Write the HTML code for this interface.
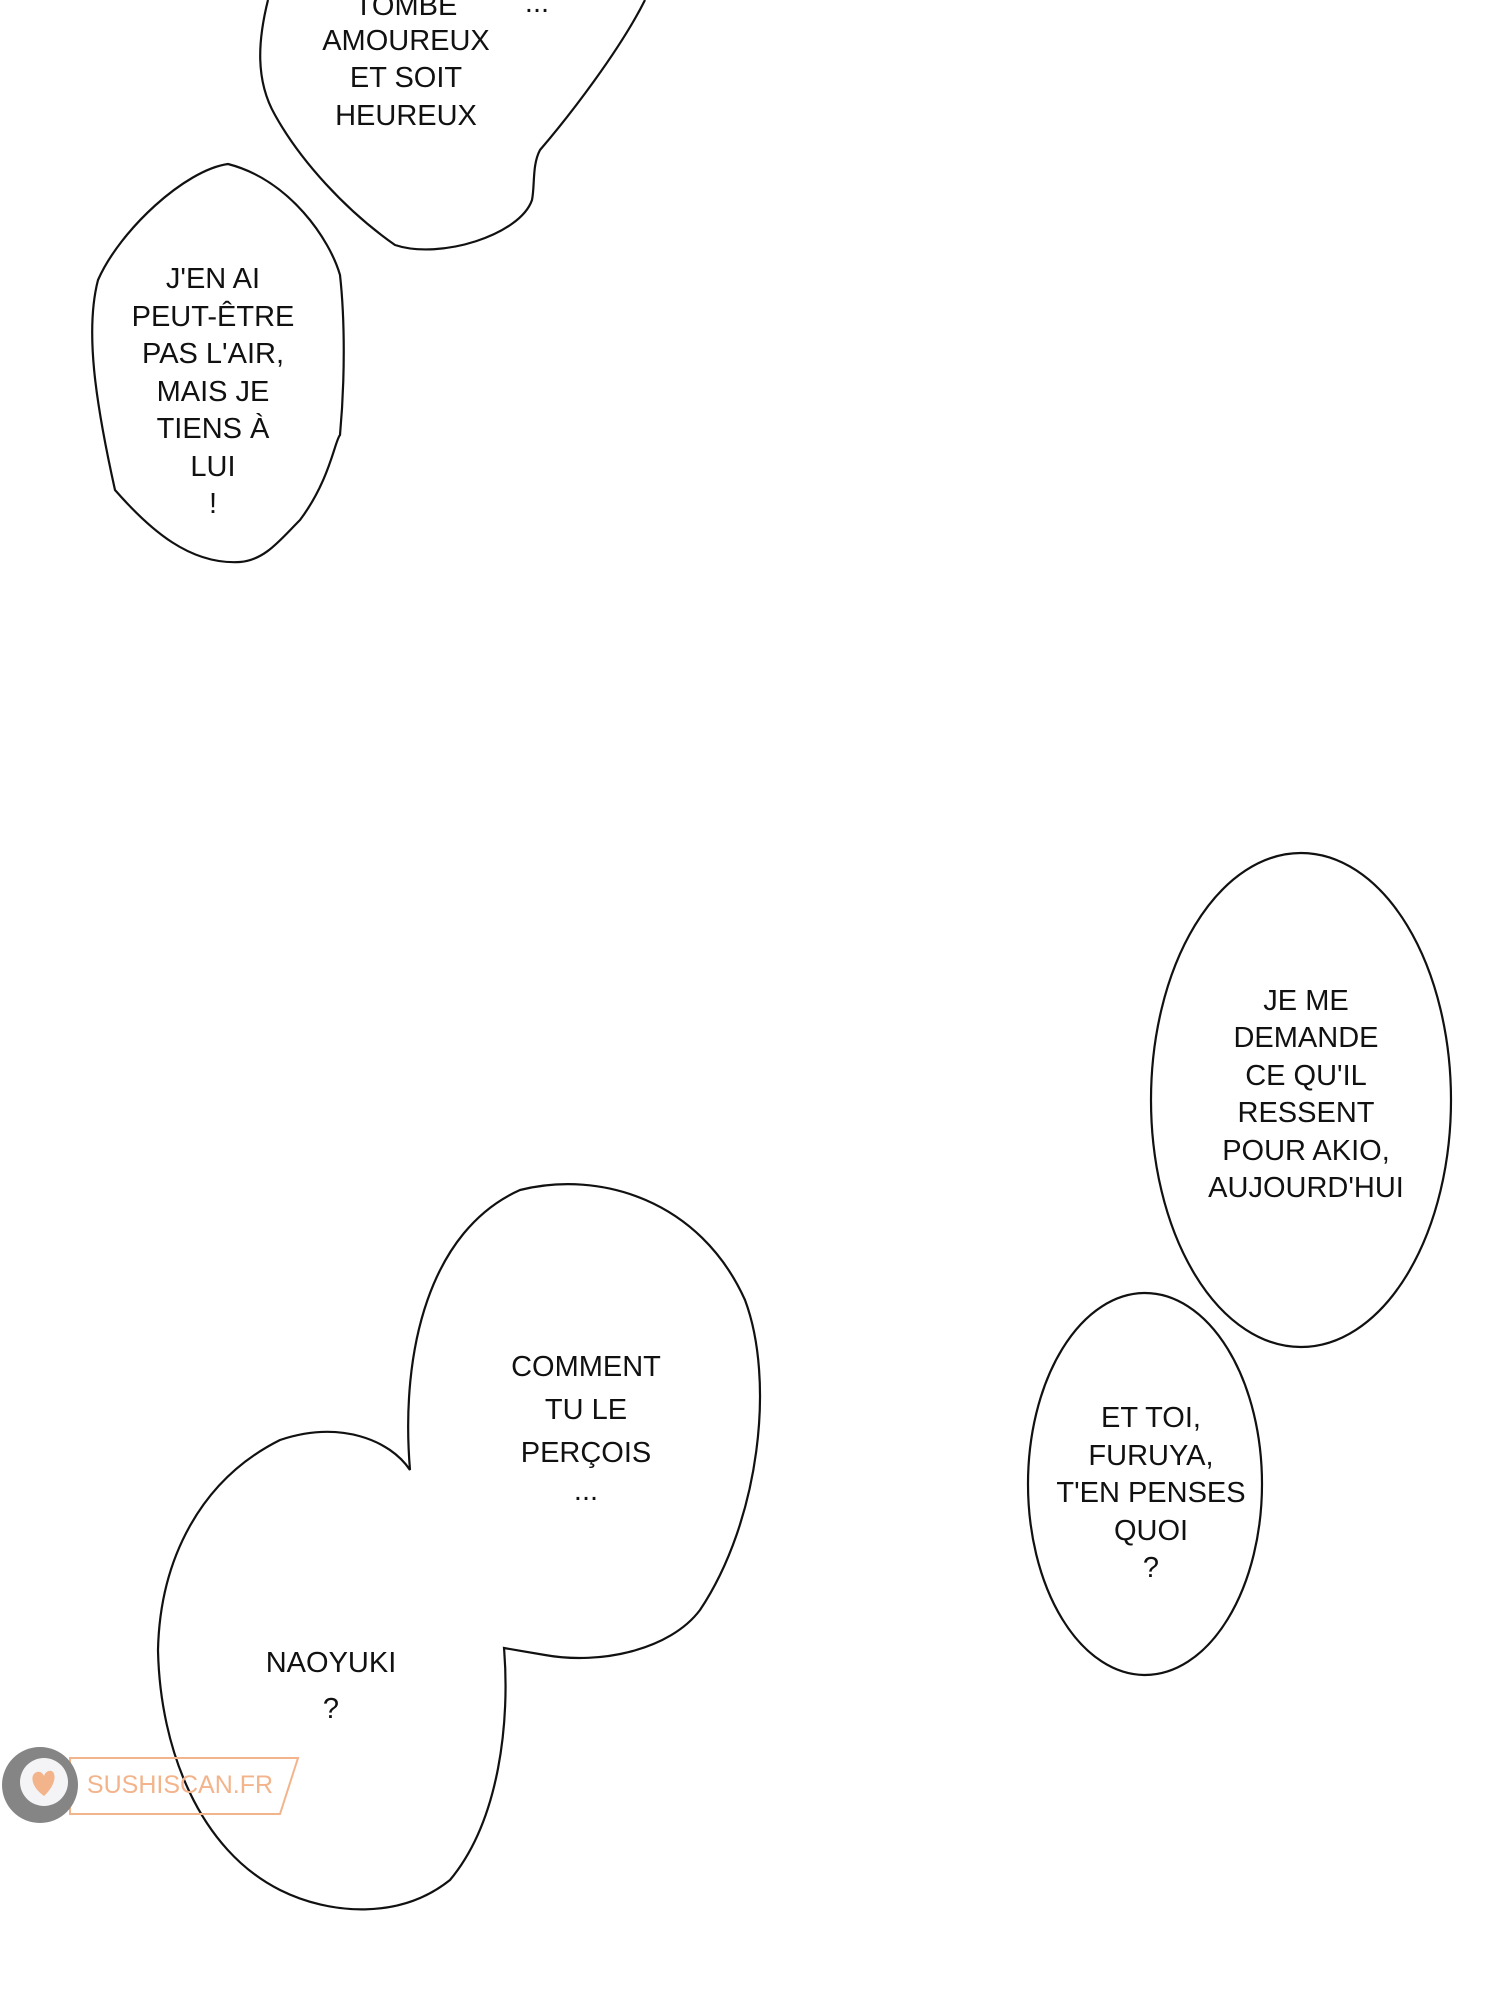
<!DOCTYPE html>
<html><head><meta charset="utf-8"><style>
html,body{margin:0;padding:0;background:#fff;width:1500px;height:2000px;overflow:hidden}
svg{display:block}
text{font-family:"Liberation Sans Narrow","Liberation Sans",sans-serif;font-size:29px;fill:#111;text-anchor:middle}
</style></head><body>
<svg width="1500" height="2000" viewBox="0 0 1500 2000">
<g fill="#fff" stroke="#111" stroke-width="2.2">
<path d="M268,0 C258,40 255,80 275,115 C300,160 345,210 395,245 C440,260 520,235 532,200 C535,185 532,165 540,150 C570,115 620,50 645,0"/>
<path d="M228,164 C185,170 120,230 98,280 C85,330 95,400 115,490 C150,530 190,565 240,562 C265,560 280,540 300,520 C330,480 335,440 340,435 C345,380 345,320 340,275 C330,240 290,180 228,164 Z"/>
<ellipse cx="1301" cy="1100" rx="150" ry="247"/>
<ellipse cx="1145" cy="1484" rx="117" ry="191"/>
<path d="M410,1470 C400,1350 430,1230 520,1190 C600,1170 700,1200 745,1300 C775,1380 760,1520 700,1610 C670,1650 600,1665 545,1655 L504,1648 C510,1720 500,1820 450,1880 C400,1920 330,1915 280,1890 C200,1850 160,1750 158,1650 C160,1560 200,1480 280,1440 C340,1420 390,1440 410,1470 Z"/>
</g>
<text x="406" y="15">TOMBE</text>
<text x="537" y="12">...</text>
<text x="406" y="50">AMOUREUX</text>
<text x="406" y="87">ET SOIT</text>
<text x="406" y="125">HEUREUX</text>
<g>
<text x="213" y="288">J'EN AI</text>
<text x="213" y="326">PEUT-ÊTRE</text>
<text x="213" y="363">PAS L'AIR,</text>
<text x="213" y="401">MAIS JE</text>
<text x="213" y="438">TIENS À</text>
<text x="213" y="476">LUI</text>
<text x="213" y="513">!</text>
</g>
<g>
<text x="1306" y="1010">JE ME</text>
<text x="1306" y="1047">DEMANDE</text>
<text x="1306" y="1085">CE QU'IL</text>
<text x="1306" y="1122">RESSENT</text>
<text x="1306" y="1160">POUR AKIO,</text>
<text x="1306" y="1197">AUJOURD'HUI</text>
</g>
<g>
<text x="1151" y="1427">ET TOI,</text>
<text x="1151" y="1465">FURUYA,</text>
<text x="1151" y="1502">T'EN PENSES</text>
<text x="1151" y="1540">QUOI</text>
<text x="1151" y="1577">?</text>
</g>
<g>
<text x="586" y="1376">COMMENT</text>
<text x="586" y="1419">TU LE</text>
<text x="586" y="1462">PERÇOIS</text>
<text x="586" y="1500">...</text>
<text x="331" y="1672">NAOYUKI</text>
<text x="331" y="1718">?</text>
</g>
<path d="M70,1758 L298,1758 L280,1814 L70,1814 Z" fill="none" stroke="#f3b48c" stroke-width="2"/>
<circle cx="40" cy="1785" r="38" fill="#858585"/>
<circle cx="44" cy="1782" r="24" fill="#f4f4f6"/>
<path d="M44,1796 C30,1786 30,1774 37,1772 C41,1771 43,1774 44,1776 C45,1772 50,1769 53,1772 C57,1777 53,1788 44,1796 Z" fill="#f3b48c"/>
<text x="180" y="1793" style="font-family:'Liberation Sans',sans-serif;font-size:25px;fill:#f3b48c">SUSHISCAN.FR</text>
</svg>
</body></html>
